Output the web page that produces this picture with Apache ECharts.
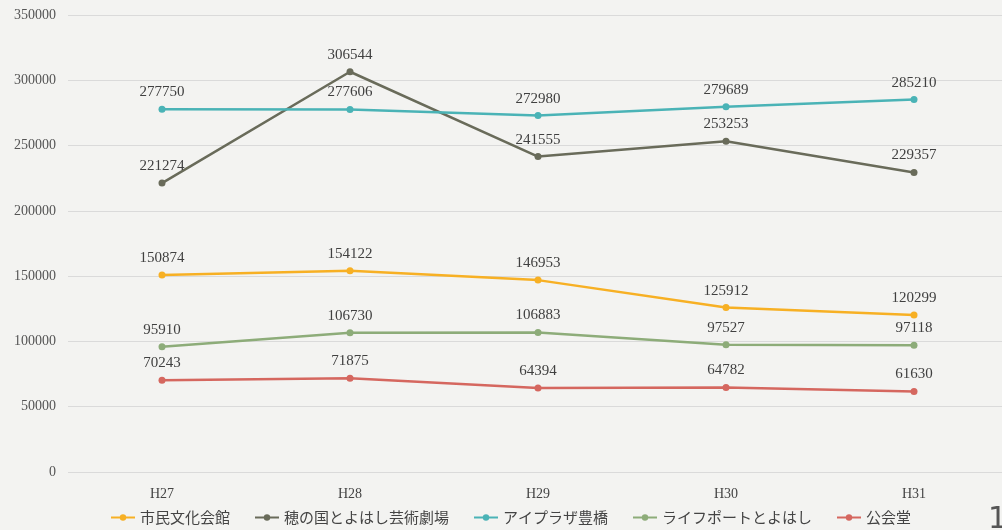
<!DOCTYPE html>
<html lang="ja">
<head>
    <meta charset="UTF-8">
    <title>施設利用者数</title>
    <script src="https://cdn.jsdelivr.net/npm/echarts@6/dist/echarts.min.js"></script>
    <style>
        * { margin: 0; padding: 0; }
        body { background: #f3f3f1; overflow: hidden; }
        #chart { width: 1008px; height: 530px; }
    </style>
</head>
<body>
    <div id="chart"></div>
    <script>
        const years = ['H27', 'H28', 'H29', 'H30', 'H31'];
        const shimin = [150874, 154122, 146953, 125912, 120299];
        const hoNoKuni = [221274, 306544, 241555, 253253, 229357];
        const aipuraza = [277750, 277606, 272980, 279689, 285210];
        const raifupoto = [95910, 106730, 106883, 97527, 97118];
        const kokaido = [70243, 71875, 64394, 64782, 61630];

        const names = ['市民文化会館', '穂の国とよはし芸術劇場', 'アイプラザ豊橋', 'ライフポートとよはし', '公会堂'];
        const colors = ['#f7b024', '#696b5a', '#4ab3b6', '#8dac79', '#d5675f'];
        const values = [shimin, hoNoKuni, aipuraza, raifupoto, kokaido];

        const serif = '"Liberation Serif", "DejaVu Serif", serif';

        const chart = echarts.init(document.getElementById('chart'));
        chart.setOption({
            backgroundColor: '#f3f3f1',
            animation: false,
            grid: { left: 68, top: 15, right: 0, bottom: 58 },
            legend: {
                bottom: 0,
                left: 105,
                itemWidth: 24,
                itemHeight: 8,
                itemGap: 24,
                textStyle: { fontFamily: '"Noto Sans CJK JP", sans-serif', fontSize: 15, color: '#444' },
                data: names
            },
            xAxis: {
                type: 'category',
                data: years,
                axisLine: { show: false },
                axisTick: { show: false },
                axisLabel: { fontFamily: serif, fontSize: 14, color: '#444', margin: 15 }
            },
            yAxis: {
                type: 'value',
                min: 0,
                max: 350000,
                interval: 50000,
                axisLabel: { fontFamily: serif, fontSize: 14, color: '#555', margin: 12, formatter: v => String(v) },
                splitLine: { lineStyle: { color: '#dadada', width: 1 } }
            },
            graphic: [{
                type: 'text',
                left: 988,
                top: 505,
                style: { text: '1', font: '30px "DejaVu Sans", sans-serif', fill: '#555' }
            }],
            series: names.map((n, i) => ({
                name: n,
                type: 'line',
                data: values[i],
                color: colors[i],
                symbol: 'circle',
                symbolSize: 7,
                lineStyle: { width: 2.5 },
                label: {
                    show: true,
                    position: 'top',
                    distance: 6,
                    fontFamily: serif,
                    fontSize: 15,
                    color: '#404040'
                }
            }))
        });
    </script>
</body>
</html>
